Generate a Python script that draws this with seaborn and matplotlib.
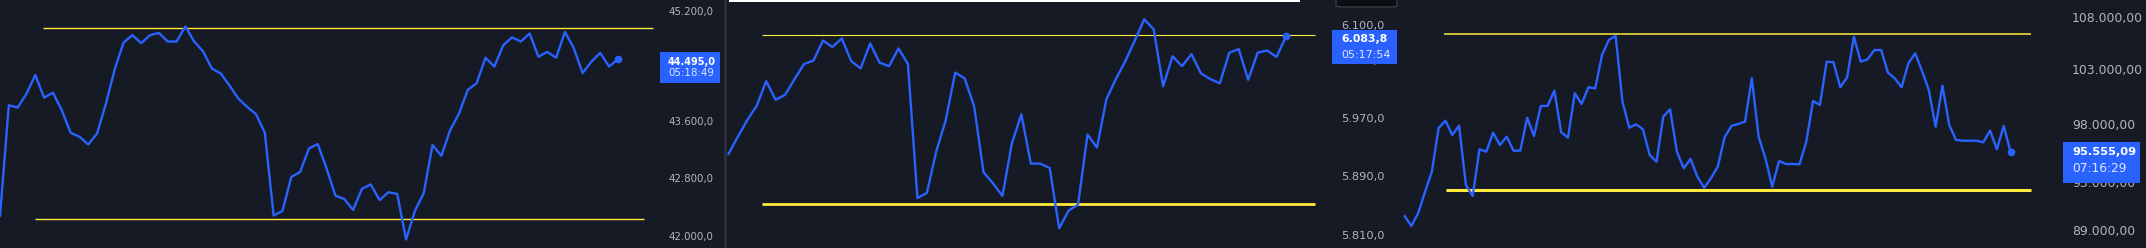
import matplotlib
matplotlib.use("Agg")
import matplotlib.pyplot as plt
from matplotlib.patches import Rectangle, FancyBboxPatch
from matplotlib.ticker import FixedLocator, FuncFormatter, NullLocator
import pandas as pd
import seaborn as sns

# ---------------- data ----------------
p1_values = [42274, 43831, 43798, 43997, 44266, 43940, 44011, 43761, 43440, 43383,
             43274, 43430, 43855, 44351, 44738, 44846, 44728, 44846, 44879, 44752,
             44752, 44974, 44752, 44610, 44360, 44289, 44115, 43926, 43808, 43704,
             43440, 42283, 42345, 42817, 42887, 43218, 43279, 42935, 42557, 42510,
             42359, 42651, 42713, 42496, 42604, 42581, 41953, 42345, 42590, 43265,
             43114, 43477, 43713, 44053, 44148, 44516, 44388, 44695, 44813, 44752,
             44870, 44530, 44601, 44516, 44893, 44657, 44294, 44459, 44587, 44388, 44495.0]
p1_levels = [44945, 42236]
p1_level_spans = [(4.87, 73.98), (3.97, 72.96)]
p1_ticks = [42000, 42800, 43600, 45200]
p1_timer = "05:18:49"

p2_values = [5920, 5944, 5967, 5987, 6021, 5995, 6002, 6024, 6045, 6050,
             6078, 6069, 6081, 6049, 6039, 6074, 6047, 6042, 6067, 6045,
             5860, 5867, 5924, 5967, 6033, 6025, 5986, 5895, 5880, 5863,
             5935, 5975, 5907, 5907, 5901, 5819, 5843, 5851, 5947, 5929,
             5996, 6024, 6049, 6078, 6108, 6094, 6014, 6056, 6042, 6059,
             6032, 6024, 6018, 6061, 6066, 6023, 6061, 6064, 6055, 6083.8]
p2_levels = [6086, 5852]
p2_level_spans = [(3.56, 62.07), (3.56, 62.07)]
p2_ticks = [5810, 5890, 5970, 6050, 6100]
p2_timer = "05:17:54"

p3_values = [90139, 89324, 90385, 92126, 93841, 97641, 98291, 97022, 97845, 92714,
             91792, 95769, 95561, 97225, 96145, 96873, 95648, 95648, 98559, 96934,
             99612, 99612, 101006, 97260, 96785, 100768, 99793, 101318, 101227, 104336,
             105767, 106152, 100002, 97667, 97969, 97525, 95275, 94698, 98649, 99314,
             95561, 94131, 94930, 93415, 92487, 93280, 94268, 96820, 97819, 97996,
             98201, 102151, 96873, 94990, 92571, 94757, 94499, 94499, 94474, 96433,
             100065, 99702, 103702, 103645, 101318, 102243, 106084, 103702, 103928, 104810,
             104810, 102671, 102151, 101318, 103552, 104497, 102830, 101070, 97756, 101466,
             97908, 96582, 96520, 96520, 96520, 96381, 97402, 95769, 97819, 95555.09]
p3_levels = [106316, 92294]
p3_level_spans = [(5.79, 91.97), (6.08, 91.97)]
p3_ticks = [89000, 93000, 98000, 103000, 108000]
p3_timer = "07:16:29"

# ---------------- style ----------------
BG = "#161a25"
BLUE = "#2962ff"
YELLOW = "#ffeb3b"
TICK = "#b2b5be"
W, H = 2146, 248

sns.set_theme(style="dark", rc={"axes.facecolor": BG, "figure.facecolor": BG})
plt.rcParams["font.family"] = ["DejaVu Sans"]

fig = plt.figure(figsize=(W / 100, H / 100), dpi=100)


def fmt(decimals):
    def f(v, pos=None):
        s = f"{v:,.{decimals}f}"
        return s.replace(",", "X").replace(".", ",").replace("X", ".")
    return f


panels = [
    dict(vals=p1_values, levels=p1_levels, spans=p1_level_spans, ticks=p1_ticks, timer=p1_timer,
         dec=1, x0=0, x1=660, xlim=(0, 74.77), ylim=(41836, 45363), fs=7.4, pad=5.8,
         lw_levels=(1.0, 1.0), tag_x1=720, tag_top=-6.9, tag_h=30.4, v_off=2.5, t_off=14.1,
         text_x=668, vfs=7.0, tfs=7.4),
    dict(vals=p2_values, levels=p2_levels, spans=p2_level_spans, ticks=p2_ticks, timer=p2_timer,
         dec=1, x0=727, x1=1332, xlim=(-0.148, 63.87), ylim=(5792.5, 6135.5), fs=8.2, pad=6.5,
         lw_levels=(0.8, 2.0), tag_x1=1397, tag_top=-6.5, tag_h=34.3, v_off=2.5, t_off=18.5,
         text_x=1341, vfs=7.8, tfs=8.0),
    dict(vals=p3_values, levels=p3_levels, spans=p3_level_spans, ticks=p3_ticks, timer=p3_timer,
         dec=2, x0=1401, x1=2063, xlim=(-0.529, 96.71), ylim=(87556, 109680), fs=8.9, pad=6.5,
         lw_levels=(1.1, 2.2), tag_x1=2140, tag_top=-9.8, tag_h=40.7, v_off=0.2, t_off=17.2,
         text_x=2072, vfs=8.2, tfs=8.8),
]

for p in panels:
    ax = fig.add_axes([p["x0"] / W, 0, (p["x1"] - p["x0"]) / W, 1])
    ax.set_facecolor(BG)
    df = pd.DataFrame({"i": range(len(p["vals"])), "v": p["vals"]})
    sns.lineplot(data=df, x="i", y="v", ax=ax, color=BLUE, linewidth=1.7, zorder=3)
    ax.plot([df["i"].iloc[-1]], [df["v"].iloc[-1]], "o", color=BLUE, ms=4.5, zorder=4)
    for lvl, (a, b), lw in zip(p["levels"], p["spans"], p["lw_levels"]):
        ax.plot([a, b], [lvl, lvl], color=YELLOW, linewidth=lw, zorder=2, solid_capstyle="butt")
    ax.set_yscale("log")
    ax.set_xlim(*p["xlim"])
    ax.set_ylim(*p["ylim"])
    ax.yaxis.set_major_locator(FixedLocator(p["ticks"]))
    ax.yaxis.set_major_formatter(FuncFormatter(fmt(p["dec"])))
    ax.yaxis.set_minor_locator(NullLocator())
    ax.yaxis.tick_right()
    ax.tick_params(axis="y", length=0, pad=p["pad"], labelsize=p["fs"], labelcolor=TICK)
    ax.set_xticks([])
    ax.set_xlabel("")
    ax.set_ylabel("")
    ax.grid(False)
    for s in ax.spines.values():
        s.set_visible(False)

    # price tag
    last = p["vals"][-1]
    ydisp = ax.transData.transform((0, last))[1]
    ypx = H - ydisp
    top = ypx + p["tag_top"]
    fig.add_artist(Rectangle((p["x1"] / W, 1 - (top + p["tag_h"]) / H),
                             (p["tag_x1"] - p["x1"]) / W, p["tag_h"] / H,
                             transform=fig.transFigure, facecolor=BLUE, edgecolor="none", zorder=5))
    fig.text(p["text_x"] / W, 1 - (ypx + p["v_off"]) / H, fmt(p["dec"])(last),
             color="white", fontsize=p["vfs"], fontweight="bold", va="center", ha="left", zorder=6)
    fig.text(p["text_x"] / W, 1 - (ypx + p["t_off"]) / H, p["timer"],
             color="#dfe5ff", fontsize=p["tfs"], va="center", ha="left", zorder=6)

# separator between first and second chart
fig.add_artist(Rectangle((724 / W, 0), 3 / W, 1, transform=fig.transFigure,
                         facecolor="#2a2e39", edgecolor="none", zorder=7))
# thin white strip on top of second chart
fig.add_artist(Rectangle((729 / W, 1 - 1.5 / H), (1300 - 729) / W, 1.5 / H, transform=fig.transFigure,
                         facecolor="white", edgecolor="none", zorder=7))
# small dark box at top of second price scale
fig.add_artist(FancyBboxPatch((1336 / W, 1 - 7 / H), 61 / W, 10 / H,
                              boxstyle="round,pad=0,rounding_size=0.004", transform=fig.transFigure,
                              facecolor="#0c0e14", edgecolor="#434651", linewidth=0.8, zorder=7))

fig.savefig("out.png", dpi=100, facecolor=BG)
